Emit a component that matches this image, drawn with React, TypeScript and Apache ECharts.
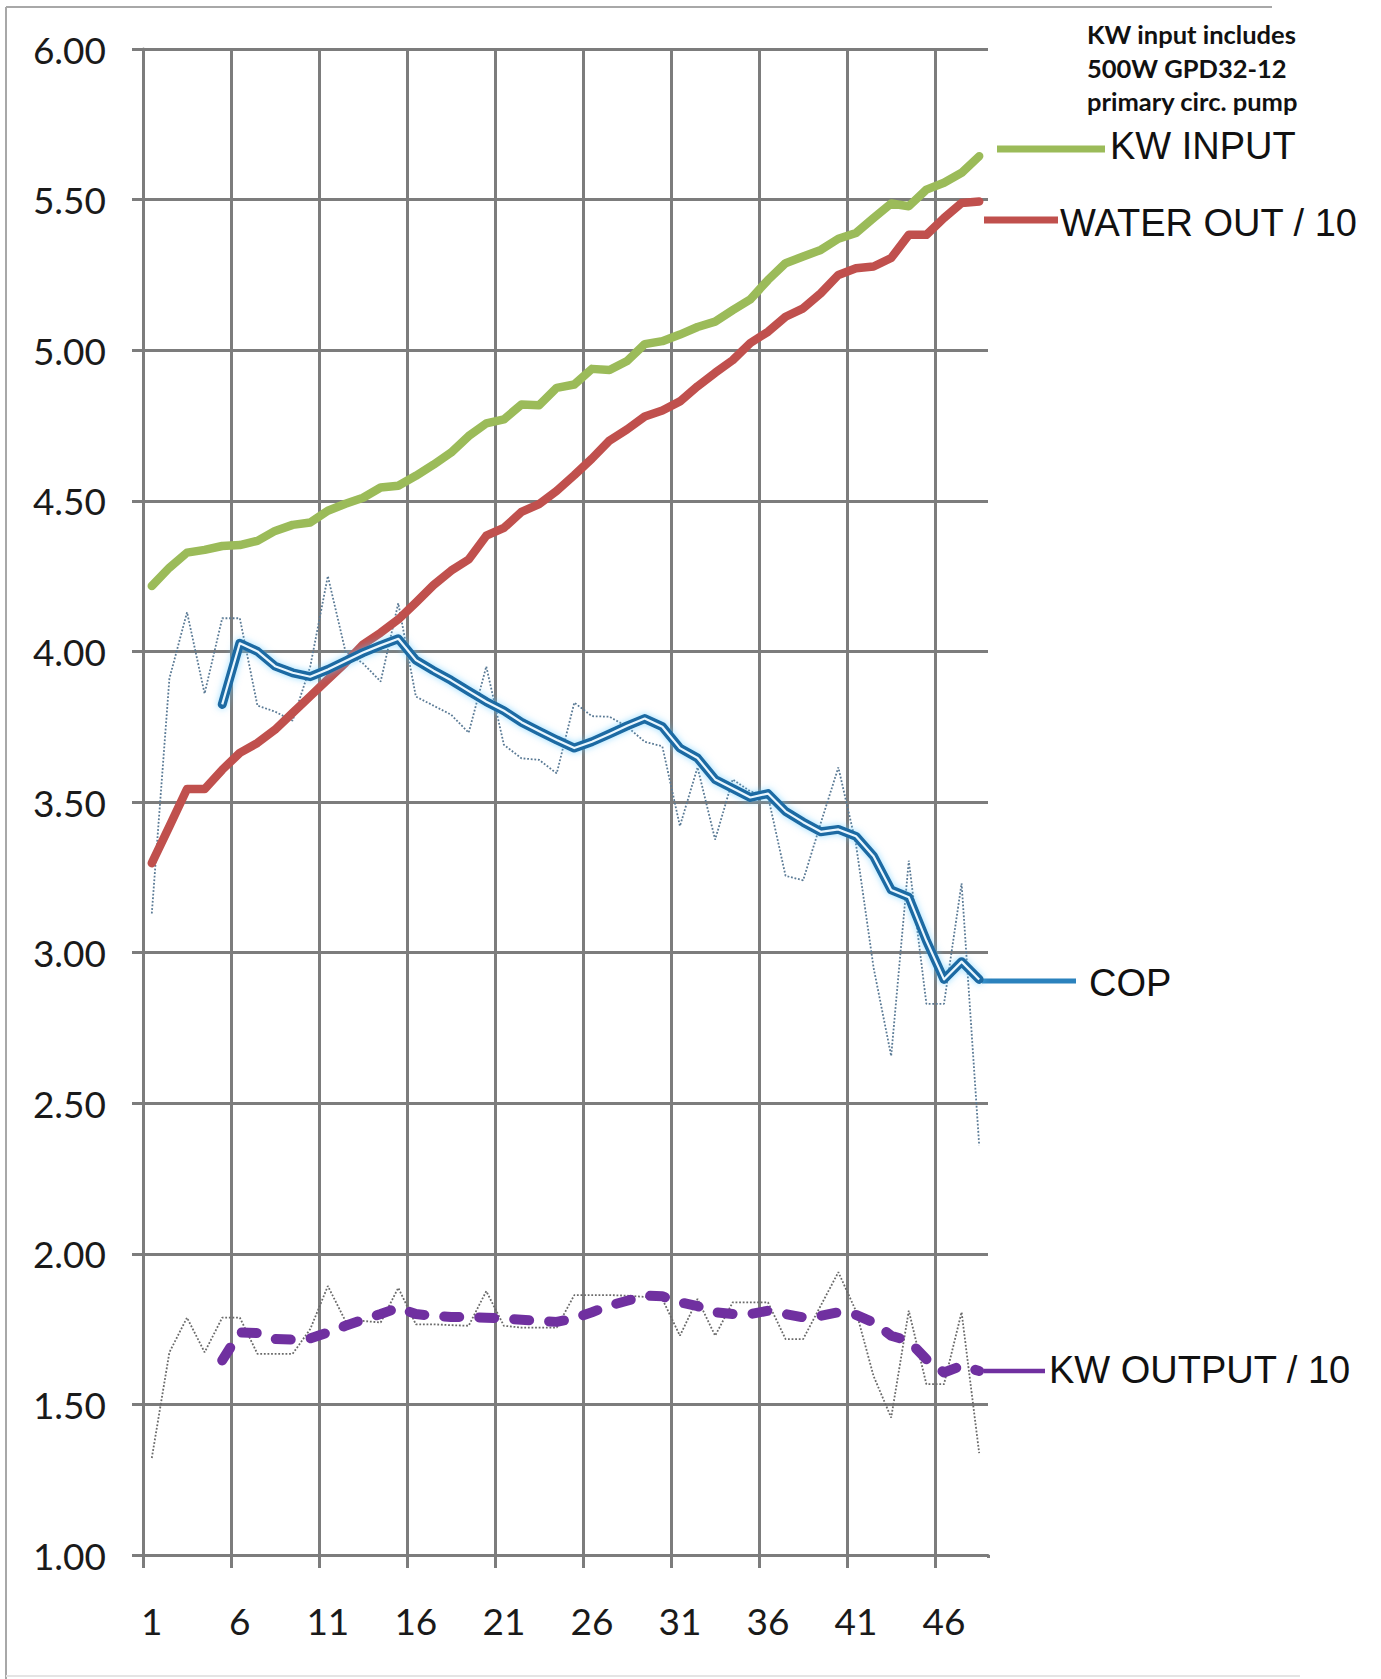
import React, { useEffect, useRef } from "react";
import * as echarts from "echarts";

const categories = [
  "1", "2", "3", "4", "5", "6", "7", "8", "9", "10", "11", "12", "13", "14", "15", "16",
  "17", "18", "19", "20", "21", "22", "23", "24", "25", "26", "27", "28", "29", "30", "31", "32",
  "33", "34", "35", "36", "37", "38", "39", "40", "41", "42", "43", "44", "45", "46", "47", "48",
];

const kwInput = [
  4.217, 4.278, 4.328, 4.337, 4.35, 4.353, 4.367, 4.4, 4.42, 4.428, 4.467, 4.49, 4.51, 4.544, 4.55, 4.583,
  4.62, 4.66, 4.715, 4.757, 4.77, 4.82, 4.817, 4.875, 4.886, 4.938, 4.934, 4.964, 5.02, 5.03, 5.052, 5.077,
  5.095, 5.133, 5.169, 5.233, 5.289, 5.311, 5.333, 5.37, 5.389, 5.439, 5.487, 5.478, 5.533, 5.556, 5.589, 5.644,
];

const waterOut = [
  3.297, 3.419, 3.543, 3.543, 3.607, 3.663, 3.696, 3.74, 3.796, 3.851, 3.907, 3.962, 4.023, 4.062, 4.106, 4.162,
  4.22, 4.268, 4.305, 4.384, 4.41, 4.463, 4.489, 4.533, 4.585, 4.64, 4.7, 4.737, 4.78, 4.8, 4.83, 4.88,
  4.925, 4.967, 5.024, 5.061, 5.111, 5.139, 5.189, 5.25, 5.272, 5.278, 5.306, 5.383, 5.383, 5.439, 5.489, 5.494,
];

const copRaw = [
  3.13, 3.91, 4.13, 3.86, 4.11, 4.11, 3.82, 3.8, 3.77, 3.95, 4.25, 4.0, 3.96, 3.9, 4.16, 3.85,
  3.82, 3.79, 3.73, 3.95, 3.69, 3.645, 3.64, 3.595, 3.83, 3.785, 3.783, 3.75, 3.7, 3.685, 3.42, 3.615,
  3.375, 3.575, 3.535, 3.52, 3.255, 3.24, 3.43, 3.615, 3.36, 2.95, 2.657, 3.305, 2.83, 2.83, 3.23, 2.36,
];

const copSmooth = [
  null, null, null, null, 3.824, 4.027, 4.0, 3.951, 3.929, 3.916, 3.94, 3.968, 3.996, 4.02, 4.042, 3.971,
  3.936, 3.904, 3.868, 3.833, 3.803, 3.765, 3.735, 3.706, 3.679, 3.7, 3.726, 3.753, 3.777, 3.75, 3.679, 3.646,
  3.575, 3.545, 3.515, 3.528, 3.469, 3.433, 3.401, 3.409, 3.386, 3.32, 3.208, 3.184, 3.04, 2.911, 2.97, 2.911,
];

const outRaw = [
  1.322, 1.673, 1.788, 1.673, 1.788, 1.788, 1.668, 1.668, 1.668, 1.75, 1.893, 1.777, 1.777, 1.772, 1.887, 1.766,
  1.766, 1.763, 1.761, 1.876, 1.761, 1.755, 1.755, 1.755, 1.863, 1.863, 1.863, 1.861, 1.857, 1.85, 1.728, 1.85,
  1.728, 1.839, 1.839, 1.839, 1.717, 1.717, 1.828, 1.939, 1.81, 1.594, 1.456, 1.811, 1.567, 1.567, 1.806, 1.338,
];

const outSmooth = [
  null, null, null, null, 1.646, 1.739, 1.737, 1.717, 1.715, 1.719, 1.739, 1.761, 1.781, 1.8, 1.821, 1.8,
  1.794, 1.79, 1.79, 1.788, 1.785, 1.781, 1.777, 1.774, 1.786, 1.806, 1.828, 1.844, 1.861, 1.859, 1.839, 1.826,
  1.806, 1.8, 1.8, 1.811, 1.8, 1.789, 1.794, 1.806, 1.797, 1.772, 1.728, 1.711, 1.65, 1.606, 1.628, 1.611,
];

const seriesLabels = ["KW INPUT", "WATER OUT / 10", "COP", "KW OUTPUT / 10"];
const noteLines = ["KW input includes", "500W GPD32-12", "primary circ. pump"];

const GRID = "#7c7c7c";
const GREEN = "#9BBB59";
const RED = "#C0504D";
const BLUE = "#1d6aa3";
const PURPLE = "#7030A0";

export default function App() {
  const ref = useRef<HTMLDivElement>(null);

  useEffect(() => {
    const chart = echarts.init(ref.current as HTMLDivElement, null, { renderer: "svg" });
    const legendFont = { fontFamily: '"Liberation Sans", Arial, sans-serif', fontSize: 38, fill: "#111" };
    chart.setOption({
      animation: false,
      backgroundColor: "#ffffff",
      grid: { left: 143, top: 49, width: 845, height: 1506, containLabel: false },
      xAxis: {
        type: "category",
        data: categories,
        boundaryGap: true,
        axisLine: { show: true, lineStyle: { color: GRID, width: 3 } },
        axisTick: { show: true, interval: 4, length: 13, lineStyle: { color: GRID, width: 3 } },
        axisLabel: {
          interval: 4,
          margin: 47,
          fontFamily: "Lato, sans-serif",
          fontSize: 37,
          color: "#1a1a1a",
        },
        splitLine: {
          show: true,
          interval: 4,
          showMaxLine: false,
          lineStyle: { color: GRID, width: 3 },
        },
      },
      yAxis: {
        type: "value",
        min: 1,
        max: 6,
        interval: 0.5,
        axisLine: { show: true, lineStyle: { color: GRID, width: 3 } },
        axisTick: { show: true, length: 11, lineStyle: { color: GRID, width: 3 } },
        axisLabel: {
          margin: 37,
          fontFamily: "Lato, sans-serif",
          fontSize: 37,
          color: "#1a1a1a",
          formatter: (v: number) => v.toFixed(2),
        },
        splitLine: { show: true, lineStyle: { color: GRID, width: 3 } },
      },
      series: [
        {
          name: "COP raw",
          type: "line",
          data: copRaw,
          symbol: "none",
          z: 2,
          lineStyle: { color: "#5a7a95", width: 1.8, type: "dotted" },
        },
        {
          name: "KW OUTPUT raw",
          type: "line",
          data: outRaw,
          symbol: "none",
          z: 2,
          lineStyle: { color: "#6a6a6a", width: 1.8, type: "dotted" },
        },
        {
          name: seriesLabels[1],
          type: "line",
          data: waterOut,
          symbol: "none",
          z: 3,
          lineStyle: { color: RED, width: 8.5, cap: "round", join: "round" },
        },
        {
          name: seriesLabels[0],
          type: "line",
          data: kwInput,
          symbol: "none",
          z: 3,
          lineStyle: { color: GREEN, width: 8.5, cap: "round", join: "round" },
        },
        {
          name: seriesLabels[2],
          type: "line",
          data: copSmooth,
          symbol: "none",
          z: 4,
          lineStyle: {
            color: BLUE,
            width: 9,
            cap: "round",
            join: "round",
            shadowColor: "rgba(90,200,255,0.6)",
            shadowBlur: 7,
          },
        },
        {
          name: "COP core",
          type: "line",
          data: copSmooth,
          symbol: "none",
          z: 5,
          lineStyle: { color: "#e9f7ff", width: 2.2, join: "round" },
        },
        {
          name: seriesLabels[3],
          type: "line",
          data: outSmooth,
          symbol: "none",
          z: 5,
          lineStyle: { color: PURPLE, width: 10, type: [15, 20], cap: "round", join: "round" },
        },
      ],
      graphic: [
        { type: "rect", shape: { x: 982, y: 1558, width: 12, height: 16 }, style: { fill: "#ffffff" }, z: 100 },
        { type: "line", shape: { x1: 6, y1: 7, x2: 1272, y2: 7 }, style: { stroke: "#a8a8a8", lineWidth: 2 } },
        { type: "line", shape: { x1: 6, y1: 7, x2: 6, y2: 1679 }, style: { stroke: "#a8a8a8", lineWidth: 2 } },
        { type: "line", shape: { x1: 6, y1: 1676, x2: 1300, y2: 1676 }, style: { stroke: "#e4e4e4", lineWidth: 2 } },
        { type: "line", shape: { x1: 997, y1: 149, x2: 1105, y2: 149 }, style: { stroke: GREEN, lineWidth: 7 } },
        {
          type: "text",
          x: 1110,
          y: 146,
          style: { ...legendFont, text: seriesLabels[0], verticalAlign: "middle", align: "left" },
        },
        { type: "line", shape: { x1: 984, y1: 220, x2: 1058, y2: 220 }, style: { stroke: RED, lineWidth: 7 } },
        {
          type: "text",
          x: 1060,
          y: 223,
          style: { ...legendFont, text: seriesLabels[1], verticalAlign: "middle", align: "left" },
        },
        { type: "line", shape: { x1: 982, y1: 981, x2: 1076, y2: 981 }, style: { stroke: "#2b82bd", lineWidth: 5 } },
        {
          type: "text",
          x: 1089,
          y: 983,
          style: { ...legendFont, text: seriesLabels[2], verticalAlign: "middle", align: "left" },
        },
        { type: "line", shape: { x1: 984, y1: 1371, x2: 1045, y2: 1371 }, style: { stroke: PURPLE, lineWidth: 4.5 } },
        {
          type: "text",
          x: 1049,
          y: 1370,
          style: { ...legendFont, text: seriesLabels[3], verticalAlign: "middle", align: "left" },
        },
        ...noteLines.map((t, i) => ({
          type: "text",
          x: 1087,
          y: 34 + i * 33.5,
          style: {
            text: t,
            fontFamily: "Lato, sans-serif",
            fontWeight: "bold",
            fontSize: 25.5,
            fill: "#111",
            verticalAlign: "middle",
            align: "left",
          },
        })),
      ],
    });
    return () => chart.dispose();
  }, []);

  return (
    <div
      ref={ref}
      style={{ position: "absolute", left: 0, top: 0, width: 1381, height: 1679, background: "#fff" }}
    />
  );
}
